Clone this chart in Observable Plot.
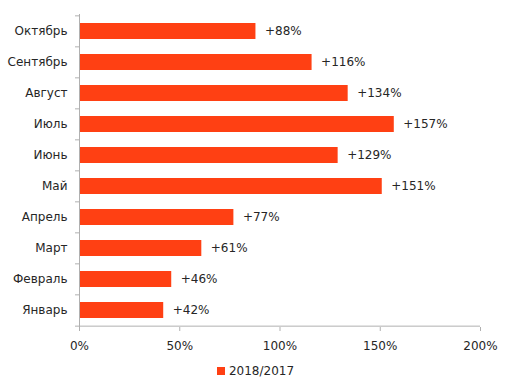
<!DOCTYPE html>
<html>
<head>
<meta charset="utf-8">
<script src="https://cdn.jsdelivr.net/npm/d3@7"></script>
<script src="https://cdn.jsdelivr.net/npm/@observablehq/plot@0.6"></script>
<style>
  body { margin: 0; background: #fff; font-family: "DejaVu Sans", sans-serif; }
  #chart { width: 505px; }
  .legend { display: flex; justify-content: center; align-items: center; font-size: 12px; color: #262626; margin-top: 4px; padding-left: 6px; }
  .legend .sw { width: 8px; height: 8px; background: #FF4013; margin-right: 4px; }
</style>
</head>
<body>
<div id="chart"></div>
<script>
const months = ["Январь","Февраль","Март","Апрель","Май","Июнь","Июль","Август","Сентябрь","Октябрь"];
const values = [42, 46, 61, 77, 151, 129, 157, 134, 116, 88];
const xTicks = [0, 50, 100, 150, 200];
const seriesName = "2018/2017";

const data = months.map((m, i) => ({month: m, value: values[i]}));
const order = months.slice().reverse();

const AXIS = "#b0b0b0";
const TEXT = "#262626";
const BAR = "#FF4013";

const W = 505, H = 360, MT = 14, MB = 33, ML = 79, MR = 25;
const step = (H - MT - MB) / order.length; // band step (paddingOuter = paddingInner / 2)

const plot = Plot.plot({
  width: W,
  height: H,
  marginLeft: ML,
  marginRight: MR,
  marginTop: MT,
  marginBottom: MB,
  style: { fontFamily: "DejaVu Sans, sans-serif", fontSize: "12px", color: TEXT, background: "#fff" },
  x: { domain: [0, 200], ticks: xTicks, tickFormat: d => d + "%", label: null },
  y: { domain: order, paddingInner: 0.48, paddingOuter: 0.24, label: null },
  marks: [
    Plot.barX(data, { y: "month", x: "value", fill: BAR }),
    Plot.text(data, { y: "month", x: "value", text: d => "+" + d.value + "%", textAnchor: "start", dx: 9, fill: TEXT, fontSize: 12 }),
    Plot.axisY({ tickSize: 0, tickPadding: 12, fontSize: 12, fill: TEXT }),
    // y axis line
    Plot.ruleX([0], { stroke: AXIS }),
    // category boundary ticks on the y axis
    Plot.ruleY(order, { y: d => d, x1: -2, x2: 0, dy: -step / 2, stroke: AXIS }),
    Plot.ruleY([order[order.length - 1]], { y: d => d, x1: -2, x2: 0, dy: step / 2, stroke: AXIS }),
    // x axis line
    Plot.ruleY([order[order.length - 1]], { y: d => d, x1: 0, x2: 200, dy: step / 2, stroke: AXIS }),
    Plot.axisX({ ticks: xTicks, tickFormat: d => d + "%", tickSize: 4, tickPadding: 10, stroke: AXIS, fill: TEXT, fontSize: 12, label: null })
  ]
});
document.getElementById("chart").appendChild(plot);

const legend = document.createElement("div");
legend.className = "legend";
legend.innerHTML = `<span class="sw"></span><span>${seriesName}</span>`;
document.getElementById("chart").appendChild(legend);
</script>
</body>
</html>
